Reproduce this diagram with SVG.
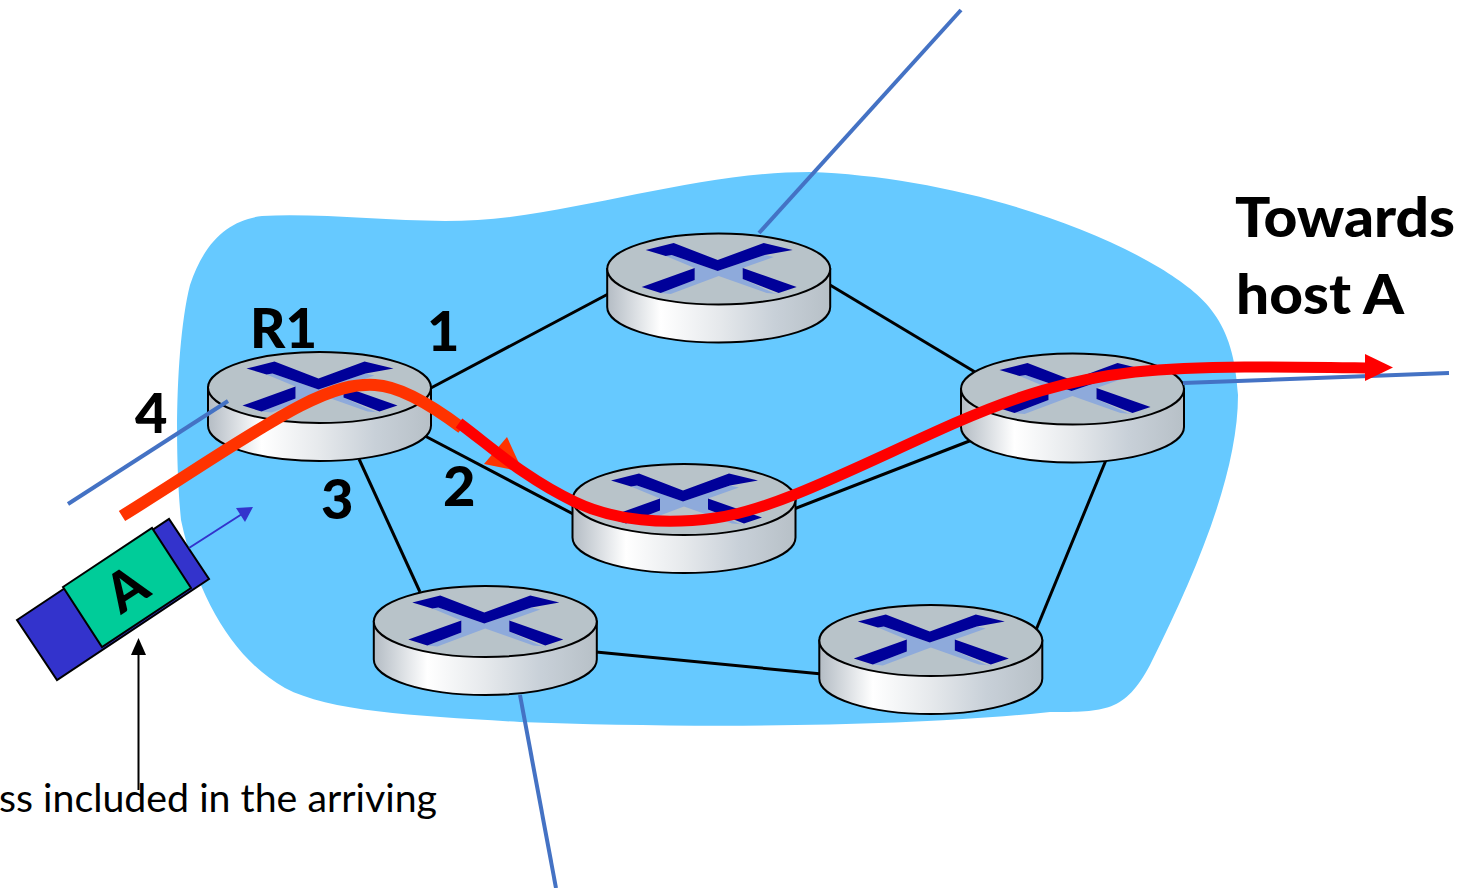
<svg xmlns="http://www.w3.org/2000/svg" xmlns:xlink="http://www.w3.org/1999/xlink" width="1468" height="888" viewBox="0 0 1468 888">
<style>
text{font-family:"Lato","Open Sans","Liberation Sans",sans-serif;fill:#000}
.b{font-weight:900;font-size:56px}
.link{stroke:#000;stroke-width:3;fill:none}
.wan{stroke:#4472c4;stroke-width:4;fill:none}
.ol{stroke:#000;stroke-width:2}
</style>
<defs>
<linearGradient id="side" x1="0" x2="1" y1="0" y2="0">
<stop offset="0" stop-color="#b4bcc4"/><stop offset=".07" stop-color="#c9cfd5"/><stop offset=".24" stop-color="#fff"/><stop offset=".5" stop-color="#e6e9ec"/><stop offset=".75" stop-color="#c8d0d8"/><stop offset="1" stop-color="#b7c0c7"/>
</linearGradient>
<g id="router">
<path d="M-111.500,0V38A111.500,35.500 0 0 0 111.500,38V0Z" fill="url(#side)" stroke="#000" stroke-width="2"/>
<ellipse rx="111.500" ry="35.500" fill="#b8c3c9" stroke="#000" stroke-width="2"/>
<path fill="#8eaadb" d="M-53,-13-47,-14-1,2 46,-14 55,-12 24,-1 24,10 55,24 60,25 48,24 0,7-48,25-58,24-24,11-24,-1Z"/>
<path fill="#000099" d="M-73,-19-45,-26 -1,-9 45,-26 74,-19 46,-14 -1,2-47,-14-53,-13Z"/>
<path fill="#000099" d="M-77,18-24,-1V11L-58,24Z"/>
<path fill="#000099" d="M24,-1 78,18 60,24 24,10Z"/>
</g>
</defs>
<path id="cloud" fill="#66c9ff" d="M262,216C340,212 430,228 510,217C610,204 710,172 810,172C930,176 1070,214 1160,268C1205,296 1234,320 1238,395C1238,470 1200,565 1150,665C1125,712 1105,712 1050,712C900,728 680,728 520,722C420,716 330,712 285,688C235,660 198,600 181,520C174,450 176,340 190,285C205,240 230,220 262,216Z"/>
<g id="links">
<path class="link" d="M429,389 610,293"/>
<path class="link" d="M830,285 975,372"/>
<path class="link" d="M425,436 575,515"/>
<path class="link" d="M794,509 972,440"/>
<path class="link" d="M359,459 420,592"/>
<path class="link" d="M596,652 822,674"/>
<path class="link" d="M1106,460 1036,630"/>
<path class="wan" d="M961,10 759,233"/>
<path class="wan" d="M520,695 556,888"/>
</g>
<use id="router-top" xlink:href="#router" href="#router" x="718.700" y="269"/>
<use id="router-r1" xlink:href="#router" href="#router" x="319.500" y="387.500"/>
<use id="router-right" xlink:href="#router" href="#router" x="1072.500" y="389"/>
<use id="router-mid" xlink:href="#router" href="#router" x="684" y="499.500"/>
<use id="router-low" xlink:href="#router" href="#router" x="485.300" y="621.500"/>
<use id="router-lowright" xlink:href="#router" href="#router" x="930.800" y="640.500"/>
<g id="packet">
<path class="ol" fill="#3333cc" d="M17,620 169,519 209,579 57,680Z"/>
<path class="ol" fill="#00cc99" d="M63,587 152,528 191,588 102,647Z"/>
<text transform="translate(126,588) rotate(-33)" text-anchor="middle" y="20" font-size="54" font-weight="900">A</text>
</g>
<g id="connectors">
<path class="wan" d="M68,504 228,401"/>
<path class="wan" d="M1183,383 1449,373"/>
<path d="M189,548 242,514" stroke="#3333cc" stroke-width="2" fill="none"/>
<path d="M253,507 236,508 245,522Z" fill="#3333cc"/>
<path d="M138.500,790V650" stroke="#000" stroke-width="2" fill="none"/>
<path d="M131,655 138.500,638 146,655Z" fill="#000"/>
<path d="M122,516 C190,474 250,432 300,406 C335,388 355,384 375,385 C398,386 430,404 462,428" stroke="#ff3300" stroke-width="12" fill="none"/>
<path d="M507,437 484,464 523,472Z" fill="#ff3300"/>
<path d="M459,423 C495,450 525,478 575,502 C615,521 665,525 715,518 C775,510 860,465 955,423 C1015,397 1065,380 1135,372 C1205,365 1300,367 1368,368" stroke="#ff0000" stroke-width="11" fill="none"/>
<path d="M1365,354 1393,367.500 1365,381Z" fill="#ff0000"/>
</g>
<g id="labels">
<text class="b" x="1235" y="237" textLength="220" lengthAdjust="spacingAndGlyphs">Towards</text>
<text class="b" x="1236" y="314" textLength="168" lengthAdjust="spacingAndGlyphs">host A</text>
<text class="b" x="250" y="348" textLength="67" lengthAdjust="spacingAndGlyphs">R1</text>
<text class="b" x="427" y="351">1</text>
<text class="b" x="135" y="433">4</text>
<text class="b" x="321" y="519">3</text>
<text class="b" x="443" y="506">2</text>
<text x="-1" y="812" font-size="39" textLength="438" lengthAdjust="spacingAndGlyphs">ss included in the arriving</text>
</g>
</svg>
